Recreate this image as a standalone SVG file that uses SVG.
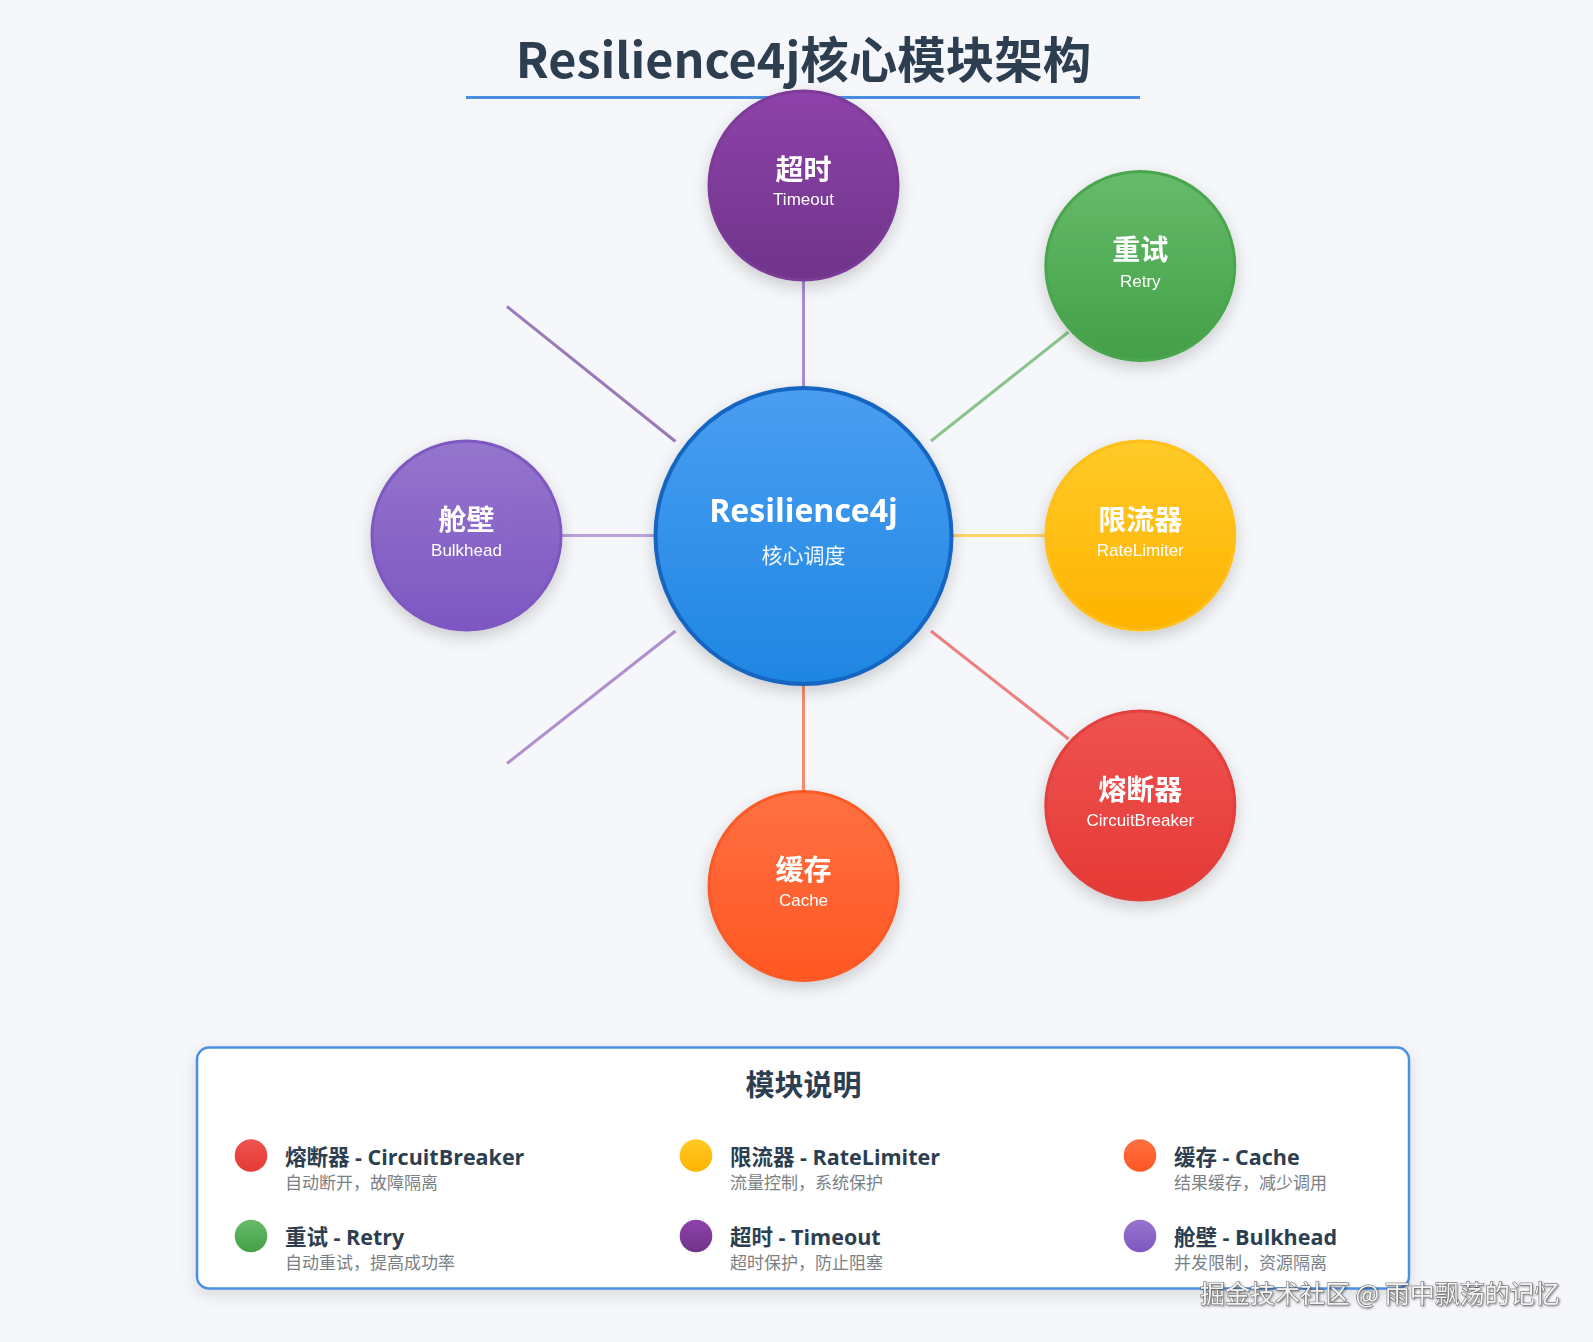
<svg xmlns="http://www.w3.org/2000/svg" width="1593" height="1342" viewBox="0 0 1593 1342">
<style>
.title{font-family:"Noto Sans CJK SC","Liberation Sans",sans-serif;font-weight:700;font-size:48.5px;fill:#2c3e50}
.zh{font-family:"Noto Sans CJK SC",sans-serif;font-weight:700;font-size:28px;fill:#ffffff;text-anchor:middle}
.en{font-family:"Liberation Sans",Arial,sans-serif;font-size:17px;fill:#ffffff;text-anchor:middle}
.core{font-family:"Open Sans","Noto Sans CJK SC",sans-serif;font-weight:700;font-size:32px;fill:#ffffff;text-anchor:middle}
.coresub{font-family:"Noto Sans CJK SC",sans-serif;font-size:21px;fill:#ffffff;fill-opacity:0.92;text-anchor:middle}
.node{stroke-width:3}
.link{stroke-width:3;fill:none;stroke-linecap:butt}
.lgt{font-family:"Noto Sans CJK SC",sans-serif;font-weight:700;font-size:29px;fill:#2c3e50;text-anchor:middle}
.it{font-family:"Open Sans","Noto Sans CJK SC",sans-serif;font-weight:700;font-size:21.5px;fill:#2c3e50}
.is{font-family:"Noto Sans CJK SC",sans-serif;font-size:17px;fill:#7a7f85}
.wm{font-family:"Noto Sans CJK SC",sans-serif;font-size:25px;fill:#f4f4f4;stroke:#555;stroke-width:0.9;paint-order:stroke}
</style>
<defs>
<filter id="sh" x="-30%" y="-30%" width="160%" height="160%">
<feDropShadow dx="0" dy="6" stdDeviation="8" flood-color="#000" flood-opacity="0.18"/>
</filter>
<filter id="sh2" x="-10%" y="-20%" width="120%" height="140%">
<feDropShadow dx="0" dy="5" stdDeviation="8" flood-color="#000" flood-opacity="0.12"/>
</filter>
<filter id="wsh" x="-5%" y="-30%" width="110%" height="160%">
<feDropShadow dx="1" dy="1" stdDeviation="0.8" flood-color="#000" flood-opacity="0.45"/>
</filter>
<linearGradient id="gCore" x1="0" y1="0" x2="0" y2="1"><stop offset="0" stop-color="#4a9ef2"/><stop offset="1" stop-color="#1e86e2"/></linearGradient>
<linearGradient id="gTime" x1="0" y1="0" x2="0" y2="1"><stop offset="0" stop-color="#8e42aa"/><stop offset="1" stop-color="#6f3489"/></linearGradient>
<linearGradient id="gRetry" x1="0" y1="0" x2="0" y2="1"><stop offset="0" stop-color="#66bb6a"/><stop offset="1" stop-color="#43a047"/></linearGradient>
<linearGradient id="gRate" x1="0" y1="0" x2="0" y2="1"><stop offset="0" stop-color="#ffca28"/><stop offset="1" stop-color="#ffb300"/></linearGradient>
<linearGradient id="gCb" x1="0" y1="0" x2="0" y2="1"><stop offset="0" stop-color="#ef5350"/><stop offset="1" stop-color="#e53935"/></linearGradient>
<linearGradient id="gCache" x1="0" y1="0" x2="0" y2="1"><stop offset="0" stop-color="#ff7043"/><stop offset="1" stop-color="#ff5722"/></linearGradient>
<linearGradient id="gBulk" x1="0" y1="0" x2="0" y2="1"><stop offset="0" stop-color="#9575cd"/><stop offset="1" stop-color="#7e57c2"/></linearGradient>
</defs>
<rect width="1593" height="1342" fill="#f5f7fa"/>

<g id="title">
<text class="title" x="803.5" y="78" text-anchor="middle">Resilience4j核心模块架构</text>
<line x1="466" y1="97.5" x2="1140" y2="97.5" stroke="#4a90e2" stroke-width="3.2"/>
</g>

<g id="connectors">
<line class="link" x1="803.5" y1="281" x2="803.5" y2="386" stroke="#a98bd6"/>
<line class="link" x1="931" y1="441" x2="1068.5" y2="332" stroke="#88c48b"/>
<line class="link" x1="952" y1="535.5" x2="1046" y2="535.5" stroke="#ffd466"/>
<line class="link" x1="931" y1="631" x2="1068.5" y2="739" stroke="#ee7f7f"/>
<line class="link" x1="803.5" y1="686" x2="803.5" y2="790" stroke="#f58d6d"/>
<line class="link" x1="562" y1="535.5" x2="655" y2="535.5" stroke="#b9a2dc"/>
<line class="link" x1="507" y1="306.5" x2="675.5" y2="441.5" stroke="#9b78b8"/>
<line class="link" x1="507" y1="763.5" x2="675.5" y2="631" stroke="#b08fd0"/>
</g>

<g id="node-core" filter="url(#sh)">
<circle cx="803.5" cy="536" r="148" fill="url(#gCore)" stroke="#1565c0" stroke-width="4"/>
<text class="core" x="803.5" y="521.5">Resilience4j</text>
<text class="coresub" x="803.5" y="563">核心调度</text>
</g>

<g id="node-timeout" filter="url(#sh)">
<circle class="node" cx="803.5" cy="185.5" r="94.5" fill="url(#gTime)" stroke="#7b3a96"/>
<text class="zh" x="803.5" y="179.5">超时</text>
<text class="en" x="803.5" y="205">Timeout</text>
</g>

<g id="node-retry" filter="url(#sh)">
<circle class="node" cx="1140.3" cy="266" r="94.5" fill="url(#gRetry)" stroke="#4aa64e"/>
<text class="zh" x="1140.3" y="260">重试</text>
<text class="en" x="1140.3" y="286.5">Retry</text>
</g>

<g id="node-ratelimiter" filter="url(#sh)">
<circle class="node" cx="1140.3" cy="535.5" r="94.5" fill="url(#gRate)" stroke="#ffbf1a"/>
<text class="zh" x="1140.3" y="529.5">限流器</text>
<text class="en" x="1140.3" y="556">RateLimiter</text>
</g>

<g id="node-circuitbreaker" filter="url(#sh)">
<circle class="node" cx="1140.3" cy="805.5" r="94.5" fill="url(#gCb)" stroke="#e23f3c"/>
<text class="zh" x="1140.3" y="799.5">熔断器</text>
<text class="en" x="1140.3" y="825.5">CircuitBreaker</text>
</g>

<g id="node-cache" filter="url(#sh)">
<circle class="node" cx="803.5" cy="886" r="94.5" fill="url(#gCache)" stroke="#fa5a28"/>
<text class="zh" x="803.5" y="880">缓存</text>
<text class="en" x="803.5" y="906">Cache</text>
</g>

<g id="node-bulkhead" filter="url(#sh)">
<circle class="node" cx="466.5" cy="535.5" r="94.5" fill="url(#gBulk)" stroke="#7e58c0"/>
<text class="zh" x="466.5" y="529.5">舱壁</text>
<text class="en" x="466.5" y="556">Bulkhead</text>
</g>

<g id="legend">
<rect x="197" y="1047.5" width="1212" height="241" rx="12" fill="#ffffff" stroke="#4a90e2" stroke-width="2.5" filter="url(#sh2)"/>
<text class="lgt" x="803.5" y="1096">模块说明</text>
<circle cx="251" cy="1155.5" r="16.3" fill="url(#gCb)"/>
<text class="it" x="285" y="1165">熔断器 - CircuitBreaker</text>
<text class="is" x="285" y="1188.5">自动断开，故障隔离</text>
<circle cx="696" cy="1155.5" r="16.3" fill="url(#gRate)"/>
<text class="it" x="730" y="1165">限流器 - RateLimiter</text>
<text class="is" x="730" y="1188.5">流量控制，系统保护</text>
<circle cx="1140" cy="1155.5" r="16.3" fill="url(#gCache)"/>
<text class="it" x="1174" y="1165">缓存 - Cache</text>
<text class="is" x="1174" y="1188.5">结果缓存，减少调用</text>
<circle cx="251" cy="1236" r="16.3" fill="url(#gRetry)"/>
<text class="it" x="285" y="1244.5">重试 - Retry</text>
<text class="is" x="285" y="1269">自动重试，提高成功率</text>
<circle cx="696" cy="1236" r="16.3" fill="url(#gTime)"/>
<text class="it" x="730" y="1244.5">超时 - Timeout</text>
<text class="is" x="730" y="1269">超时保护，防止阻塞</text>
<circle cx="1140" cy="1236" r="16.3" fill="url(#gBulk)"/>
<text class="it" x="1174" y="1244.5">舱壁 - Bulkhead</text>
<text class="is" x="1174" y="1269">并发限制，资源隔离</text>
</g>

<g id="watermark">
<text class="wm" x="1200" y="1303" filter="url(#wsh)">掘金技术社区 @ 雨中飘荡的记忆</text>
</g>
</svg>
